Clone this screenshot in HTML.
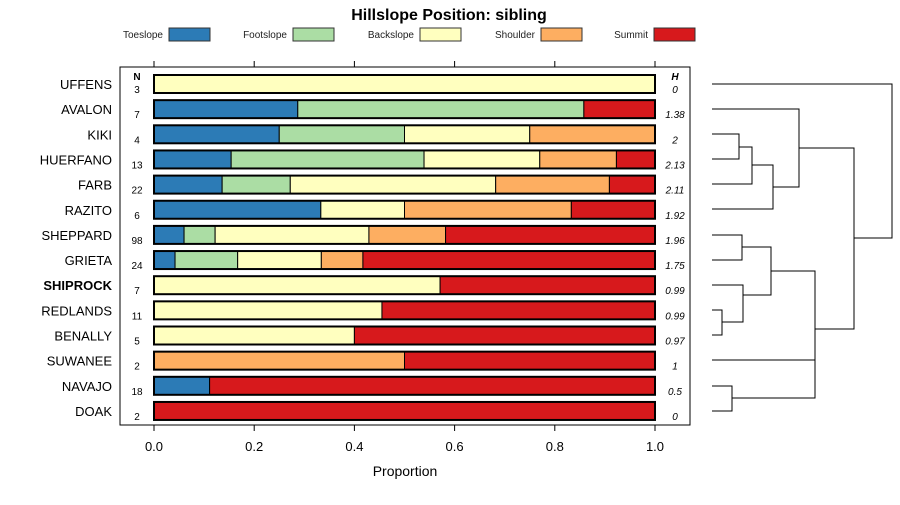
<!DOCTYPE html>
<html><head><meta charset="utf-8"><style>
body{margin:0;background:#fff}
svg text{font-family:"Liberation Sans",sans-serif}
</style></head><body>
<svg id="c" width="900" height="500" xmlns="http://www.w3.org/2000/svg">
<text x="449" y="20" text-anchor="middle" font-size="16" font-weight="bold">Hillslope Position: sibling</text>
<g id="legend"></g>
<rect x="120" y="67" width="570" height="358" fill="none" stroke="#000" stroke-width="1"/>
<g id="axes"></g>
<g id="bars"></g>
<text x="405" y="476" text-anchor="middle" font-size="14">Proportion</text>
<text x="137" y="80" text-anchor="middle" font-size="10" font-weight="bold">N</text>
<text x="675" y="80" text-anchor="middle" font-size="10" font-weight="bold" font-style="italic">H</text>
<g id="dendro" stroke="#000" fill="none" stroke-width="1">
<path d="M712 84H892V238H854"/>
<path d="M712 109H799V187H773"/>
<path d="M712 134H739V159H712M739 147H752V184H712M752 165H773V209H712M799 148H854V329H815"/>
<path d="M712 235H742V260H712M742 247H771V295H743M712 285H743V305M712 310H722V335H712M722 322H743V305"/>
<path d="M712 360H815V271H771M712 386H732V411H712M732 398H815V360"/>
</g>
</svg>
<script>
const sites=["UFFENS","AVALON","KIKI","HUERFANO","FARB","RAZITO","SHEPPARD","GRIETA","SHIPROCK","REDLANDS","BENALLY","SUWANEE","NAVAJO","DOAK"];
const nVals=[3,7,4,13,22,6,98,24,7,11,5,2,18,2];
const hVals=["0","1.38","2","2.13","2.11","1.92","1.96","1.75","0.99","0.99","0.97","1","0.5","0"];
const toeslope=[0,0.287,0.25,0.154,0.136,0.333,0.06,0.042,0,0,0,0,0.111,0];
const footslope=[0,0.571,0.25,0.385,0.136,0,0.062,0.125,0,0,0,0,0,0];
const backslope=[1,0,0.25,0.231,0.41,0.167,0.307,0.167,0.571,0.455,0.4,0,0,0];
const shoulder=[0,0,0.25,0.153,0.227,0.333,0.153,0.083,0,0,0,0.5,0,0];
const summit=[0,0.142,0,0.077,0.091,0.167,0.418,0.583,0.429,0.545,0.6,0.5,0.889,1];
const classes=["Toeslope","Footslope","Backslope","Shoulder","Summit"];
const ticks=[0,0.2,0.4,0.6,0.8,1.0];
const colors=["#2c7bb6","#abdda4","#ffffbf","#fdae61","#d7191c"];
const NS="http://www.w3.org/2000/svg";
const xs=v=>154+v*501;
const ys=i=>84+i*25.15;
function mk(p,t,a,txt){const e=document.createElementNS(NS,t);for(const k in a)e.setAttribute(k,a[k]);if(txt!=null)e.textContent=txt;p.appendChild(e);return e;}
const lg=document.getElementById('legend');
const lx=[169,293,420,541,654];
classes.forEach((c,i)=>{
 const t=mk(lg,'text',{x:lx[i]-6,y:38,'font-size':10,'text-anchor':'end',fill:'#222'},c);
 
 
 const r=mk(lg,'rect',{x:lx[i],y:28,width:41,height:13,fill:colors[i],stroke:'#333'});
 
 
});
const ax=document.getElementById('axes');
ticks.forEach(t=>{
 mk(ax,'line',{x1:xs(t),x2:xs(t),y1:61,y2:67,stroke:'#000'});
 mk(ax,'line',{x1:xs(t),x2:xs(t),y1:425,y2:431,stroke:'#000'});
 const l=mk(ax,'text',{x:xs(t),y:451,'font-size':13,'text-anchor':'middle'},t.toFixed(1));
 
 
});
const bg=document.getElementById('bars');
const series=[toeslope,footslope,backslope,shoulder,summit];
sites.forEach((s,i)=>{
 const y=ys(i);
 const lab=mk(bg,'text',{x:112,y:y+5,'font-size':13,'text-anchor':'end','font-weight':s==='SHIPROCK'?'bold':'normal'},s);
 
 
 const n=mk(bg,'text',{x:137,y:y+9,'font-size':10,'text-anchor':'middle'},nVals[i]);
 
 
 const h=mk(bg,'text',{x:675,y:y+9,'font-size':10,'text-anchor':'middle','font-style':'italic'},hVals[i]);
 
 
 let cum=0;
 series.forEach((arr,k)=>{
  const v=arr[i];
  if(v>0){
   const r=mk(bg,'rect',{x:xs(cum),y:y-9,width:xs(cum+v)-xs(cum),height:18,fill:colors[k],stroke:'#000','stroke-width':1});
   
   
  }
  cum+=v;
 });
 const o=mk(bg,'rect',{x:xs(0),y:y-9,width:xs(1)-xs(0),height:18,fill:'none',stroke:'#000','stroke-width':2});
 
 
});
</script>
</body></html>
